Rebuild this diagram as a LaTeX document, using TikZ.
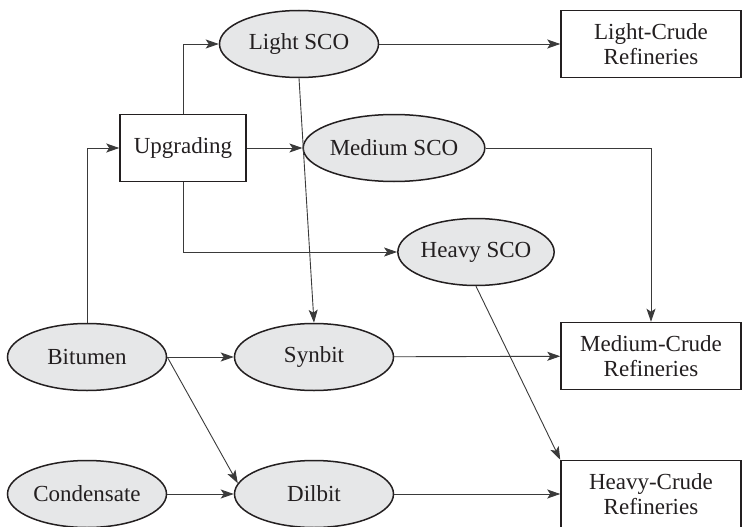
\documentclass[tikz,border=0pt]{standalone}
\usepackage{amsmath}
\usepackage{color}
\usepackage{fontspec}
\setmainfont{Liberation Serif}
\usepackage{tikz}
\usetikzlibrary{shapes.geometric,arrows.meta}
\definecolor{oilgray}{HTML}{E6E7E8}
\definecolor{ink}{HTML}{231F20}
\definecolor{wire}{HTML}{3A3A3A}

\begin{document}
\begin{tikzpicture}[x=1pt, y=-1pt, font=\fontsize{23}{25}\selectfont, >={Stealth[length=13pt, width=9pt, inset=3pt]}, main/.style = {draw=ink, ellipse, fill=oilgray, line width=1.5pt, minimum width=159pt, minimum height=67pt, inner sep=0pt, text=ink}, plant/.style = {draw=ink, rectangle, line width=1.5pt, minimum height=67pt, inner sep=0pt, align=center, text=ink}, flow/.style = {->, draw=wire, line width=0.9pt}]
                \useasboundingbox (0,0) rectangle (742,527);
                \node[plant, minimum width=126pt] (upg) at (183,148) {Upgrading};
                \node[main] (lsco) at (299,44) {Light SCO};
                \node[main] (msco) at (394,148) {Medium SCO};
                \node[main, minimum width=156pt] (hsco) at (476,252) {Heavy SCO};
                \node[main] (bit) at (87,357) {Bitumen};
                \node[main] (syn) at (314,357) {Synbit};
                \node[main] (cond) at (87,494) {Condensate};
                \node[main] (dil) at (314,494) {Dilbit};
                \node[plant, minimum width=180pt] (lcr) at (651,44) {Light-Crude\\Refineries};
                \node[plant, minimum width=180pt] (mcr) at (651,356) {Medium-Crude\\Refineries};
                \node[plant, minimum width=180pt] (hcr) at (651,494) {Heavy-Crude\\Refineries};
                \draw[flow] (bit) |- (upg);
                \draw[flow] (upg.north) |- (lsco);
                \draw[flow] (upg) -- (msco);
                \draw[flow] (upg.south) |- (hsco);
                \draw[flow] (lsco) -- (lcr);
                \draw[flow] (lsco.south) -- (syn.north);
                \draw[flow] (msco.east) -| (mcr.north);
                \draw[flow] (hsco.south) -- (hcr.north west);
                \draw[flow] (bit) -- (syn);
                \draw[flow] (bit.east) -- (dil.172);
                \draw[flow] (syn) -- (mcr);
                \draw[flow] (cond) -- (dil);
                \draw[flow] (dil) -- (hcr);
            \end{tikzpicture}
\end{document}
